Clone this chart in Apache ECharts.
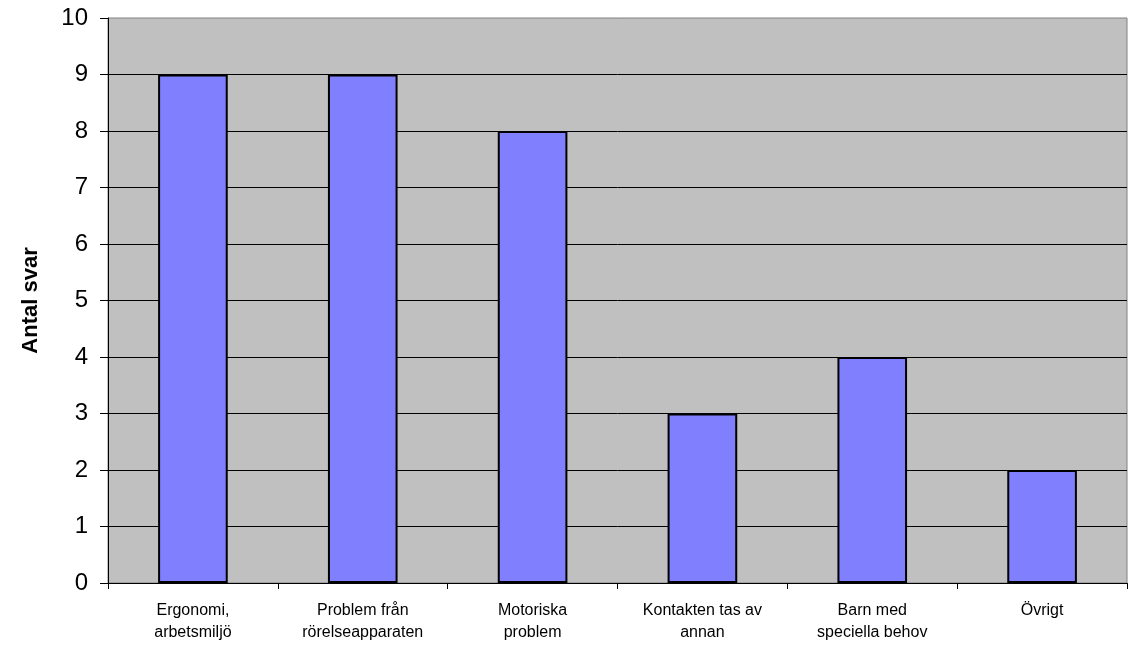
<!DOCTYPE html>
<html>
<head>
<meta charset="utf-8">
<script src="https://cdn.jsdelivr.net/npm/echarts@6/dist/echarts.min.js"></script>
<style>
  html, body {margin: 0; padding: 0; background: #fff;}
  #chart {width: 1128px; height: 647px;}
</style>
</head>
<body>
<div id="chart"></div>
<script>
// kategorier och antal svar
const categories = [
    'Ergonomi,\narbetsmiljö',
    'Problem från\nrörelseapparaten',
    'Motoriska\nproblem',
    'Kontakten tas av\nannan',
    'Barn med\nspeciella behov',
    'Övrigt'
];
const antalSvar = [9, 9, 8, 3, 4, 2];
const yTicks = [0, 10, 1]; // min, max, interval

const chart = echarts.init(document.getElementById('chart'));

chart.setOption({
    animation: false,
    textStyle: {fontFamily: 'Liberation Sans, Arial, sans-serif'},
    grid: {
        left: 108, right: 1, top: 18, bottom: 64,
        show: true,
        backgroundColor: '#C0C0C0',
        borderColor: '#808080',
        borderWidth: 1
    },
    xAxis: {
        type: 'category',
        data: categories,
        axisLine: {show: true, lineStyle: {color: '#000', width: 1}},
        axisTick: {show: true, alignWithLabel: false, length: 6, lineStyle: {color: '#000'}},
        axisLabel: {color: '#000', fontSize: 16, lineHeight: 22, margin: 17, interval: 0}
    },
    yAxis: {
        type: 'value',
        min: yTicks[0],
        max: yTicks[1],
        interval: yTicks[2],
        name: 'Antal svar',
        nameLocation: 'middle',
        nameGap: 66,
        nameTextStyle: {color: '#000', fontSize: 22, fontWeight: 'bold'},
        axisLine: {show: true, lineStyle: {color: '#000', width: 1}},
        axisTick: {show: true, length: 8, lineStyle: {color: '#000'}},
        axisLabel: {color: '#000', fontSize: 24, margin: 20},
        splitLine: {show: true, showMaxLine: false, lineStyle: {color: '#000', width: 1}}
    },
    series: [
        {
            name: 'Antal svar',
            type: 'bar',
            data: antalSvar,
            barWidth: '41%',
            itemStyle: {
                color: '#8080FF',
                borderColor: '#000',
                borderWidth: 2
            }
        }
    ]
});
</script>
</body>
</html>
